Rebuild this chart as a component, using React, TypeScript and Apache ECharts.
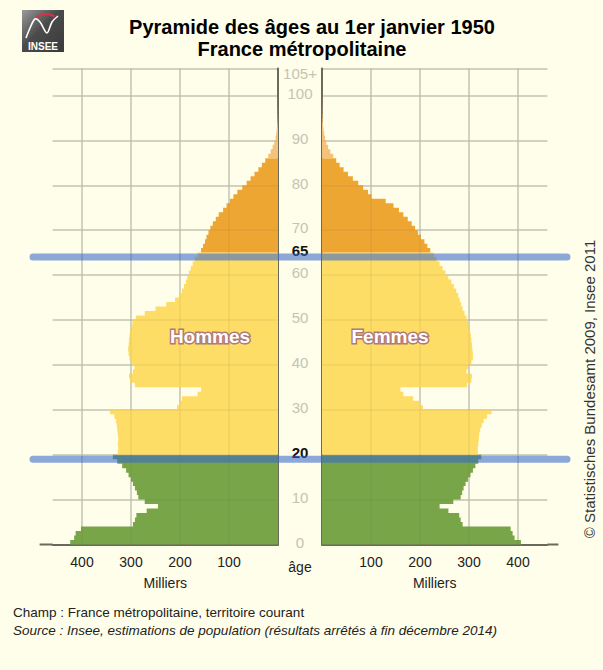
import React, { useEffect, useRef } from 'react';
import * as echarts from 'echarts';

// Age categories 0..105 (105 = "105+")
const ages: string[] = [];
for (let a = 0; a <= 105; a++) ages.push(String(a));

// Population by age (thousands), France métropolitaine, 1 Jan 1950
const men = [
  424, 416, 413, 402, 296, 292, 289, 268, 245, 272,
  285, 288, 292, 296, 300, 305, 310, 318, 328, 337,
  327, 326, 327, 326, 327, 328, 329, 331, 334, 343,
  206, 200, 196, 164, 157, 292, 302, 304, 296, 293,
  300, 303, 305, 306, 305, 304, 303, 302, 300, 297,
  290, 272, 250, 228, 210, 200, 196, 192, 188, 185,
  182, 178, 174, 170, 164, 157, 153, 149, 146, 142,
  138, 133, 127, 121, 112, 105, 98, 91, 83, 73,
  64, 56, 48, 40, 33, 26, 20, 15, 11, 7.5,
  5, 3.5, 2.4, 1.6, 1, 0.7, 0.45, 0.3, 0.2, 0.12,
  0.08, 0.05, 0.03, 0.02, 0.01, 0.01,
];
const women = [
  406, 393, 389, 385, 287, 283, 280, 258, 240, 268,
  283, 286, 289, 293, 298, 303, 308, 313, 319, 325,
  318, 318, 319, 320, 321, 323, 326, 330, 337, 346,
  206, 200, 186, 166, 160, 296, 305, 306, 295, 298,
  305, 308, 308, 307, 306, 305, 304, 302, 300, 298,
  295, 291, 287, 284, 281, 278, 274, 269, 264, 258,
  252, 246, 240, 234, 228, 221, 215, 209, 202, 196,
  190, 183, 175, 166, 157, 146, 130, 101, 94, 84,
  74, 63, 53, 44, 36, 29, 23, 17, 12.5, 9,
  6.2, 4.3, 3, 2, 1.4, 0.9, 0.6, 0.4, 0.25, 0.15,
  0.1, 0.06, 0.04, 0.02, 0.01, 0.02,
];

// Age groups: [first age, last age]
const ageGroups = [
  [0, 19],
  [20, 64],
  [65, 85],
  [86, 105],
];
const groupColors = ['#77a548', '#fedd66', '#eea633', '#f4c27a'];

const ageTickLabels = ['0', '10', '20', '30', '40', '50', '60', '65', '70', '80', '90', '100', '105'];
const boldAges = ['20', '65'];
const xTickLabels = [100, 200, 300, 400];

const FONT = '"Liberation Sans", Arial, sans-serif';
const BG = '#fffeea';
const GRID = '#cfcfc1';
const AXIS = '#6a6a5c';

function pyramidSeries(values: number[], xAxisIndex: number, yAxisIndex: number, name: string) {
  return {
    name,
    type: 'custom',
    xAxisIndex,
    yAxisIndex,
    encode: { x: 0, y: 1 },
    data: ageGroups.map((g) => [g[0], g[1]]),
    renderItem: (params: any, api: any) => {
      const start = api.value(0) as number;
      const end = api.value(1) as number;
      const band = api.size([0, 1])[1] as number;
      const half = band / 2;
      const pts: number[][] = [];
      const b = api.coord([0, start]);
      pts.push([b[0], b[1] + half]);
      for (let a = start; a <= end; a++) {
        const p = api.coord([values[a], a]);
        pts.push([p[0], p[1] + half]);
        pts.push([p[0], p[1] - half]);
      }
      const t = api.coord([0, end]);
      pts.push([t[0], t[1] - half]);
      return {
        type: 'polygon',
        shape: { points: pts },
        style: { fill: groupColors[params.dataIndex], stroke: null },
      };
    },
  };
}

export default function App() {
  const ref = useRef<HTMLDivElement>(null);
  useEffect(() => {
    if (!ref.current) return;
    const chart = echarts.init(ref.current, null, { renderer: 'svg', width: 603, height: 670 });

    const gridLines = (i: number) => i > 0 && i % 10 === 0 && i <= 100;

    const xAxisBase = (gridIndex: number, inverse: boolean) => ({
      type: 'value',
      gridIndex,
      inverse,
      min: 0,
      max: 460,
      interval: 100,
      position: 'bottom',
      axisLine: { show: true, onZero: false, lineStyle: { color: AXIS, width: 2 } },
      axisTick: { show: false },
      axisLabel: {
        formatter: (v: number) => (xTickLabels.includes(v) ? String(v) : ''),
        color: '#222',
        fontSize: 14,
        fontFamily: FONT,
        margin: 10,
        showMaxLabel: false,
        showMinLabel: false,
      },
      splitLine: { show: true, showMinLine: false, showMaxLine: false, lineStyle: { color: GRID, width: 1.5 } },
      name: 'Milliers',
      nameLocation: 'middle',
      nameGap: 31,
      nameTextStyle: { color: '#222', fontSize: 14, fontFamily: FONT },
    });

    const xOverlay = (gridIndex: number, inverse: boolean) => ({
      type: 'value',
      gridIndex,
      inverse,
      min: 0,
      max: 460,
      interval: 100,
      position: 'top',
      z: 5,
      axisLine: { show: false },
      axisTick: { show: false },
      axisLabel: { show: false },
      splitLine: { show: true, showMinLine: false, showMaxLine: false, lineStyle: { color: 'rgba(90,90,60,0.09)', width: 1.5 } },
    });

    const yOverlay = (gridIndex: number, position: string) => ({
      type: 'category',
      gridIndex,
      data: ages,
      position,
      z: 5,
      axisLine: { show: false },
      axisTick: { show: false },
      axisLabel: { show: false },
      splitLine: { show: true, interval: gridLines, lineStyle: { color: 'rgba(90,90,60,0.09)', width: 1.5 } },
    });

    const option: any = {
      animation: false,
      backgroundColor: BG,
      textStyle: { fontFamily: FONT },
      grid: [
        { left: 52.6, top: 68.5, width: 225.4, height: 476, containLabel: false },
        { left: 322, top: 68.5, width: 225.4, height: 476, containLabel: false },
      ],
      xAxis: [xAxisBase(0, true), xAxisBase(1, false), xOverlay(0, true), xOverlay(1, false)],
      yAxis: [
        {
          type: 'category',
          gridIndex: 0,
          data: ages,
          position: 'right',
          axisLine: { show: true, lineStyle: { color: AXIS, width: 2 } },
          axisTick: { show: false },
          axisLabel: { show: false },
          splitLine: { show: true, interval: gridLines, lineStyle: { color: GRID, width: 1.5 } },
        },
        {
          type: 'category',
          gridIndex: 1,
          data: ages,
          position: 'left',
          axisLine: { show: true, lineStyle: { color: AXIS, width: 2 } },
          axisTick: { show: false },
          axisLabel: {
            show: true,
            interval: (i: number, v: string) => ageTickLabels.includes(String(v)),
            formatter: (v: string) => {
              if (v === '105') return '{t|105+}';
              if (boldAges.includes(v)) return '{b|' + v + '}';
              return v;
            },
            align: 'center',
            margin: 22,
            color: '#c4c4b4',
            fontSize: 15,
            fontFamily: FONT,
            rich: {
              b: { fontWeight: 'bold', color: '#111', fontSize: 15, fontFamily: FONT },
              t: { color: '#c4c4b4', fontSize: 15, fontFamily: FONT, padding: [6, 0, 0, 0] },
            },
          },
          splitLine: { show: true, interval: gridLines, lineStyle: { color: GRID, width: 1.5 } },
        },
        yOverlay(0, 'left'),
        yOverlay(1, 'right'),
      ],
      series: [pyramidSeries(men, 0, 0, 'Hommes'), pyramidSeries(women, 1, 1, 'Femmes')],
    };
    chart.setOption(option);

    const yAt = (age: number) => chart.convertToPixel({ yAxisIndex: 1 } as any, age) as unknown as number;
    const y20 = (yAt(18) + yAt(19)) / 2;
    const y65 = (yAt(63) + yAt(64)) / 2;
    const xLeftEnd = chart.convertToPixel({ xAxisIndex: 0 } as any, 460) as unknown as number;
    const xRightEnd = chart.convertToPixel({ xAxisIndex: 1 } as any, 460) as unknown as number;
    const yBase = (chart.convertToPixel({ yAxisIndex: 1 } as any, 0) as unknown as number) + 2.25;

    const blue = 'rgba(52,102,202,0.57)';

    chart.setOption({
      graphic: [
        // logo
        {
          type: 'rect',
          shape: { x: 22, y: 10, width: 42, height: 42 },
          style: {
            fill: new echarts.graphic.LinearGradient(0, 0, 1, 1, [
              { offset: 0, color: '#9a9a9a' },
              { offset: 0.45, color: '#4b4b4b' },
              { offset: 1, color: '#3a3a3a' },
            ]),
          },
          z: 10,
        },
        {
          type: 'polyline',
          shape: { points: [[26, 38], [30, 28], [35, 19], [40, 22], [47, 33], [52, 22], [58, 16]], smooth: 0.3 },
          style: { stroke: '#ffffff', lineWidth: 1.6, fill: 'none' },
          z: 11,
        },
        {
          type: 'arc',
          shape: { cx: 46, cy: 30, r: 16, startAngle: -2.2, endAngle: -1.0 },
          style: { stroke: '#d6334a', lineWidth: 2.2, fill: 'none' },
          z: 11,
        },
        {
          type: 'text',
          x: 43,
          y: 46,
          style: { text: 'INSEE', fill: '#ffffff', font: 'bold 10px ' + FONT, align: 'center', verticalAlign: 'middle' },
          z: 11,
        },
        // titles
        {
          type: 'text',
          x: 312,
          y: 27,
          style: { text: 'Pyramide des âges au 1er janvier 1950', fill: '#000', font: 'bold 20px ' + FONT, align: 'center', verticalAlign: 'middle' },
        },
        {
          type: 'text',
          x: 302,
          y: 49,
          style: { text: 'France métropolitaine', fill: '#000', font: 'bold 20px ' + FONT, align: 'center', verticalAlign: 'middle' },
        },
        // axis extensions
        {
          type: 'line',
          shape: { x1: xLeftEnd - 13, y1: yBase, x2: xLeftEnd, y2: yBase },
          style: { stroke: AXIS, lineWidth: 2 },
        },
        {
          type: 'line',
          shape: { x1: xRightEnd, y1: yBase, x2: xRightEnd + 11, y2: yBase },
          style: { stroke: AXIS, lineWidth: 2 },
        },
        // âge
        {
          type: 'text',
          x: 300,
          y: 567,
          style: { text: 'âge', fill: '#222', font: '14px ' + FONT, align: 'center', verticalAlign: 'middle' },
        },
        // Hommes / Femmes
        {
          type: 'text',
          x: 210,
          y: 336,
          z: 20,
          style: { text: 'Hommes', fill: '#ffffff', stroke: '#b07a76', lineWidth: 3, strokeFirst: true, font: 'bold 19px ' + FONT, align: 'center', verticalAlign: 'middle' } as any,
        },
        {
          type: 'text',
          x: 390,
          y: 336,
          z: 20,
          style: { text: 'Femmes', fill: '#ffffff', stroke: '#b07a76', lineWidth: 3, strokeFirst: true, font: 'bold 19px ' + FONT, align: 'center', verticalAlign: 'middle' } as any,
        },
        // blue lines
        {
          type: 'line',
          z: 100,
          shape: { x1: 33, y1: y20, x2: 567, y2: y20 },
          style: { stroke: blue, lineWidth: 7, lineCap: 'round' },
        },
        {
          type: 'line',
          z: 100,
          shape: { x1: 33, y1: y65, x2: 567, y2: y65 },
          style: { stroke: blue, lineWidth: 7, lineCap: 'round' },
        },
        // copyright
        {
          type: 'text',
          x: 589,
          y: 389,
          rotation: Math.PI / 2,
          style: { text: '© Statistisches Bundesamt 2009, Insee 2011', fill: '#333', font: '15px ' + FONT, align: 'center', verticalAlign: 'middle' },
        },
        // footer
        {
          type: 'text',
          x: 13,
          y: 612,
          style: { text: 'Champ : France métropolitaine, territoire courant', fill: '#222', font: '13.5px ' + FONT, align: 'left', verticalAlign: 'middle' },
        },
        {
          type: 'text',
          x: 13,
          y: 630,
          style: { text: 'Source : Insee, estimations de population (résultats arrêtés à fin décembre 2014)', fill: '#222', font: 'italic 13.5px ' + FONT, align: 'left', verticalAlign: 'middle' },
        },
      ],
    });

    return () => chart.dispose();
  }, []);

  return <div ref={ref} style={{ position: 'absolute', left: 0, top: 0, width: 603, height: 670 }} />;
}
